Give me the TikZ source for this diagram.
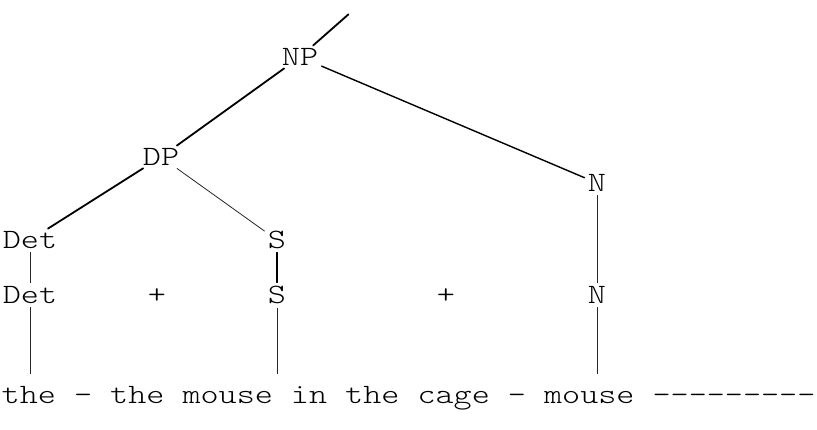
\documentclass[tikz,border=0pt]{standalone}
\usepackage{fontspec}
\newfontfamily\tw{lmmonolt10-regular.otf}[FakeStretch=1.23]
\begin{document}
\begin{tikzpicture}[x=1pt,y=-1pt,
  every node/.style={font=\tw\fontsize{28}{30}\selectfont, inner sep=1.5pt},
  typeline/.style={draw=black!85, line width=0.8pt, shorten <=2pt, shorten >=2pt},
  penline/.style={draw=black, line width=1.8pt, line cap=round, shorten <=2pt, shorten >=2pt}]
\useasboundingbox (0,0) rectangle (817,429);
\node (NP) at (300,57) {NP};
\node (DP) at (161,157) {DP};
\node (N1) at (597,183) {N};
\node (Det1) at (30,240) {Det};
\node (S1) at (277,240) {S};
\node (Det2) at (30,295) {Det};
\node (p1) at (157,296) {+};
\node (S2) at (277,295) {S};
\node (p2) at (446,296) {+};
\node (N2) at (597,295) {N};
\node[anchor=base west] (txt) at (0,403) {the - the mouse in the cage - mouse ---------};
\coordinate (topend) at (350,13);
\draw[penline] (NP) -- (topend);
\draw[penline] (NP) -- (DP);
\draw[penline, line width=1.4pt] (NP) -- (N1);
\draw[penline] (DP) -- (Det1);
\draw[typeline] (DP) -- (S1);
\draw[typeline] (Det1) -- (Det2);
\draw[penline, line width=1.4pt] (S1) -- (S2);
\draw[typeline] (N1) -- (N2);
\draw[typeline, shorten >=10pt] (Det2) -- (Det2 |- txt.north);
\draw[typeline, shorten >=10pt] (S2) -- (S2 |- txt.north);
\draw[typeline, shorten >=10pt] (N2) -- (N2 |- txt.north);
\end{tikzpicture}
\end{document}
